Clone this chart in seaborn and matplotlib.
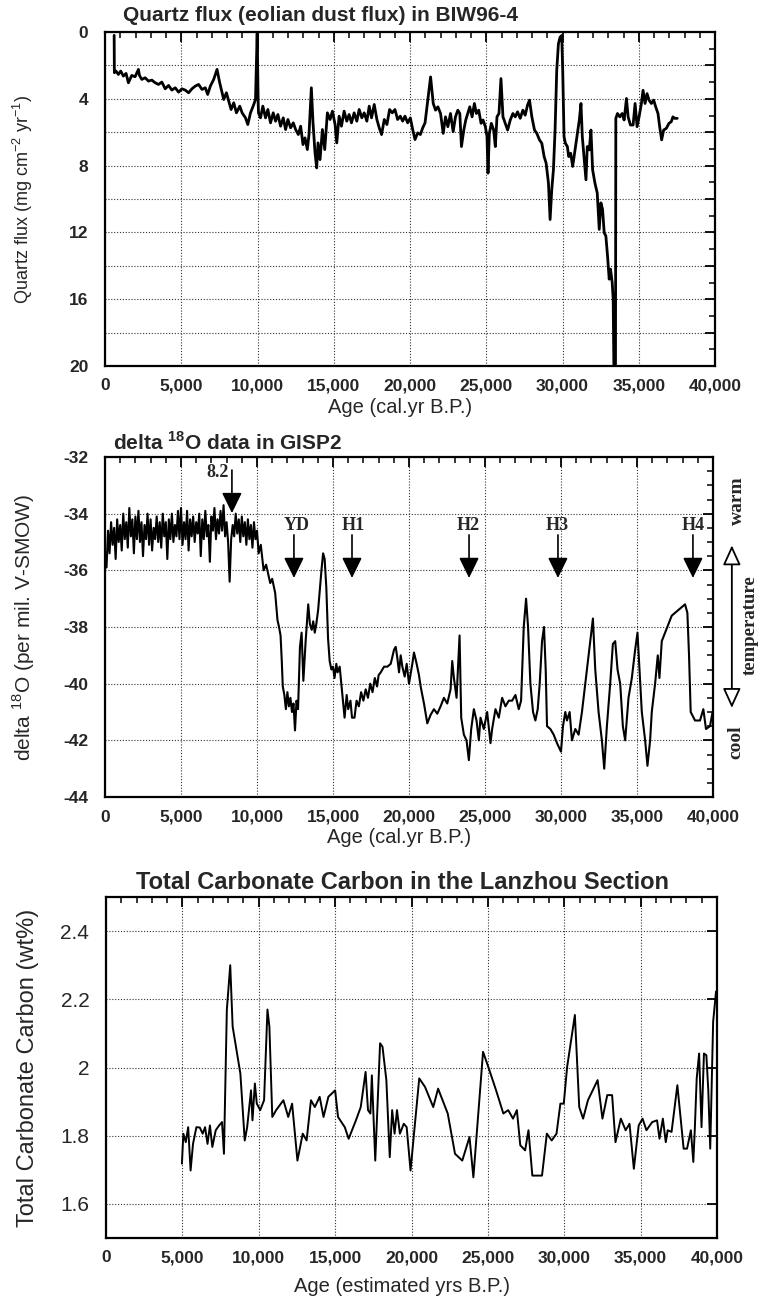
import numpy as np
import pandas as pd
import matplotlib
matplotlib.use("Agg")
import matplotlib.pyplot as plt
from matplotlib.ticker import MultipleLocator, FuncFormatter
import seaborn as sns

# ---------------- data ----------------
# Panel 1: quartz flux (mg cm-2 yr-1) vs age (cal. yr B.P.)
quartz_age = [600, 614, 724, 877, 1031, 1206, 1382, 1535, 1754, 1974, 2193, 2259, 2412, 2632, 2851,
              3070, 3290, 3509, 3728, 3947, 4167, 4386, 4605, 4825, 5044, 5263, 5483, 5702, 5921,
              6140, 6360, 6579, 6732, 6908, 7127, 7346, 7522, 7676, 7785, 7961, 8114, 8268, 8443,
              8618, 8838, 8991, 9211, 9364, 9540, 9715, 9869, 9978, 10044, 10066, 10197, 10351,
              10526, 10680, 10855, 11031, 11184, 11338, 11513, 11689, 11842, 11996, 12171, 12347,
              12500, 12676, 12829, 12983, 13114, 13268, 13377, 13531, 13640, 13772, 13882, 13969,
              14101, 14255, 14408, 14583, 14759, 14912, 15088, 15197, 15351, 15505, 15680, 15855,
              16009, 16162, 16338, 16513, 16667, 16842, 16996, 17171, 17325, 17478, 17654, 17829,
              17983, 18136, 18312, 18487, 18662, 18838, 19013, 19189, 19364, 19518, 19671, 19847,
              20022, 20176, 20329, 20505, 20680, 20834, 20987, 21350, 21524, 21676, 21829, 22003,
              22177, 22329, 22482, 22656, 22830, 22982, 23135, 23266, 23374, 23527, 23657, 23788,
              23919, 24071, 24223, 24354, 24506, 24659, 24789, 24942, 25051, 25116, 25203, 25334,
              25486, 25595, 25704, 25834, 25965, 26096, 26248, 26400, 26575, 26749, 26901, 27053,
              27228, 27402, 27554, 27707, 27837, 27990, 28164, 28316, 28490, 28643, 28795, 28926,
              29078, 29187, 29296, 29405, 29513, 29622, 29731, 29840, 29949, 30014, 30101, 30188,
              30319, 30406, 30537, 30667, 30820, 30972, 31103, 31212, 31299, 31407, 31538, 31625,
              31756, 31865, 31974, 32126, 32278, 32409, 32518, 32627, 32735, 32844, 32953, 33062,
              33149, 33258, 33323, 33367, 33475, 33497, 33606, 33758, 33911, 34042, 34194, 34303,
              34455, 34629, 34760, 34891, 35021, 35174, 35283, 35413, 35544, 35674, 35827, 35979,
              36110, 36262, 36371, 36502, 36632, 36806, 36981, 37133, 37242, 37351, 37525]
quartz_flux = [0.2, 2.44, 2.34, 2.54, 2.34, 2.64, 2.48, 3.04, 2.6, 2.68, 2.24, 2.6, 2.84, 2.74, 2.94,
               2.88, 3.04, 3.14, 3.0, 3.4, 3.2, 3.48, 3.34, 3.6, 3.4, 3.48, 3.64, 3.4, 3.24,
               3.14, 3.44, 3.34, 3.74, 3.24, 2.84, 2.24, 3.04, 3.64, 4.04, 3.64, 4.14, 4.64, 4.24,
               4.84, 4.44, 4.84, 5.14, 5.54, 4.84, 4.44, 4.04, 0.08, 4.24, 4.84, 5.14, 4.44,
               5.14, 4.64, 5.44, 4.84, 5.34, 4.94, 5.64, 5.14, 5.84, 5.24, 5.74, 5.44,
               5.84, 6.14, 5.64, 6.74, 6.34, 7.04, 6.14, 3.34, 5.44, 7.24, 8.14, 6.64,
               7.64, 5.84, 7.04, 4.84, 5.24, 4.74, 5.54, 6.64, 5.04, 5.64, 4.74, 5.34,
               4.94, 5.44, 4.84, 5.34, 4.64, 5.14, 4.84, 5.34, 4.44, 5.14, 4.34, 5.24,
               5.74, 6.14, 5.24, 5.54, 4.64, 4.84, 4.64, 5.24, 5.04, 5.34, 5.04, 5.44,
               5.14, 5.84, 6.44, 6.04, 6.14, 5.74, 5.44, 2.69, 4.28, 4.68, 4.48, 4.88,
               6.07, 5.08, 5.67, 4.88, 5.97, 5.08, 4.68, 4.88, 6.86, 5.87, 5.27, 4.88,
               4.48, 5.08, 4.28, 4.88, 4.68, 5.47, 5.27, 5.67, 6.27, 8.45, 6.07, 5.47,
               5.87, 6.86, 5.08, 4.88, 2.79, 5.08, 5.47, 5.87, 5.27, 4.88, 5.08, 4.78,
               5.17, 4.68, 4.98, 4.38, 4.08, 5.08, 5.87, 6.07, 6.46, 6.66, 7.46, 7.85,
               9.04, 11.23, 9.44, 8.25, 5.87, 2.30, 0.71, 0.31, 0.21, 2.30, 6.27, 6.66,
               6.86, 7.46, 7.26, 8.05, 7.06, 6.07, 5.27, 4.28, 6.27, 7.46, 8.85, 6.86,
               7.06, 5.87, 8.25, 9.04, 9.64, 11.82, 10.23, 10.63, 12.02, 12.22, 13.41, 14.80,
               14.20, 15.00, 15.99, 19.9, 19.9, 5.17, 4.88, 5.08, 4.88, 5.27, 3.98, 5.08,
               5.57, 5.57, 4.28, 5.67, 5.08, 4.28, 3.49, 4.28, 3.69, 4.08, 4.28, 4.08,
               4.48, 4.88, 5.67, 6.46, 5.87, 5.77, 5.47, 5.37, 5.08, 5.17, 5.17]

# Panel 2: GISP2 delta 18O (per mil V-SMOW)
d18o_age = [100, 200, 300, 400, 500, 600, 700, 800, 900, 1000, 1100, 1200, 1300, 1400, 1500,
            1600, 1700, 1800, 1900, 2000, 2100, 2200, 2300, 2400, 2500, 2600, 2700, 2800, 2900,
            3000, 3100, 3200, 3300, 3400, 3500, 3600, 3700, 3800, 3900, 4000, 4100, 4200, 4300,
            4400, 4500, 4600, 4700, 4800, 4900, 5000, 5100, 5200, 5300, 5400, 5500, 5600, 5700,
            5800, 5900, 6000, 6100, 6200, 6300, 6400, 6500, 6600, 6700, 6800, 6900, 7000, 7100,
            7200, 7300, 7400, 7500, 7600, 7700, 7800, 7900, 8000, 8100, 8200, 8300, 8400, 8500,
            8600, 8700, 8800, 8900, 9000, 9100, 9200, 9300, 9400, 9500, 9600, 9700, 9800, 9900,
            10000, 10109, 10250, 10435, 10600, 10870, 11000, 11196, 11348, 11450, 11550, 11630,
            11696, 11800, 11900, 12000, 12100, 12200, 12300, 12400, 12500, 12600, 12700, 12826,
            12935, 13050, 13200, 13370, 13480, 13600, 13700, 13800, 13900, 14022, 14240, 14348,
            14450, 14560, 14674, 14780, 14892, 15000, 15100, 15218, 15300, 15440, 15650, 15761,
            15900, 16000, 16150, 16250, 16414, 16550, 16700, 16850, 17000, 17150, 17300, 17450,
            17600, 17750, 17900, 18000, 18140, 18359, 18578, 18797, 19015, 19125, 19234, 19344,
            19453, 19562, 19716, 19847, 20000, 20219, 20328, 20503, 20656, 20766, 20985, 21203,
            21422, 21641, 21860, 22079, 22297, 22516, 22735, 22844, 22954, 23129, 23326, 23435,
            23610, 23785, 23938, 24092, 24267, 24442, 24595, 24704, 24923, 25142, 25361, 25470,
            25689, 25908, 26126, 26345, 26564, 26783, 27002, 27220, 27374, 27549, 27702, 27833,
            27986, 28161, 28314, 28468, 28599, 28752, 28883, 28993, 29080, 29299, 29518, 29737,
            29999, 30130, 30284, 30393, 30568, 30721, 30940, 31159, 31378, 31596, 31815, 32100,
            32253, 32472, 32690, 32844, 33019, 33237, 33412, 33566, 33719, 33894, 34069, 34222,
            34441, 34660, 34878, 35032, 35163, 35316, 35535, 35688, 35863, 35972, 36191, 36366,
            36476, 36629, 36848, 37066, 37285, 37504, 37723, 37942, 38160, 38314, 38423, 38532,
            38817, 39145, 39364, 39539, 39801, 39976]
d18o_val = [-35.9, -34.6, -35.4, -34.3, -35.1, -34.5, -35.6, -34.2, -35.0, -34.4, -35.3, -34.0, -34.9,
            -34.3, -35.2, -33.8, -34.8, -34.2, -35.4, -34.1, -34.9, -33.9, -35.0, -34.3, -35.5,
            -34.4, -34.9, -34.0, -35.1, -34.2, -35.3, -34.5, -34.9, -34.1, -35.0, -34.3, -35.2,
            -34.0, -34.8, -34.3, -35.6, -34.2, -34.9, -34.0, -35.0, -34.4, -34.8, -33.9, -34.9,
            -33.8, -35.1, -34.3, -34.9, -33.9, -35.3, -34.2, -34.8, -34.1, -35.0, -34.3, -34.7,
            -34.0, -35.5, -34.2, -34.9, -33.9, -34.8, -34.4, -35.7, -34.1, -34.6, -33.8, -34.9,
            -34.2, -34.7, -33.9, -34.6, -33.7, -34.8, -34.3, -35.0, -36.4, -34.9, -34.4, -34.8,
            -34.0, -34.7, -34.2, -35.0, -34.1, -34.8, -34.3, -35.1, -34.2, -34.9, -34.4, -35.2,
            -34.3, -34.9, -34.6, -35.4, -35.1, -36.0, -35.8, -36.45, -36.3, -36.8, -37.76, -38.0,
            -38.3, -39.2, -40.1, -40.4, -40.9, -40.3, -40.8, -40.5, -41.0, -40.7, -41.65, -40.6,
            -40.9, -38.7, -38.2, -39.9, -38.5, -37.2, -37.9, -38.1, -37.8, -38.2, -37.9, -37.4,
            -36.0, -35.4, -35.6, -36.6, -38.4, -39.2, -39.5, -39.4, -39.8, -39.3, -39.6, -39.4,
            -40.6, -41.2, -40.4, -40.9, -40.6, -41.2, -41.2, -40.6, -40.8, -40.3, -40.6, -40.2,
            -40.5, -40.0, -40.3, -39.8, -40.1, -39.7, -39.6, -39.4, -39.4, -39.3, -38.8, -38.7,
            -39.1, -39.6, -39.0, -39.4, -39.75, -39.3, -40.0, -39.3, -38.9, -39.3, -39.7, -40.1,
            -40.7, -41.4, -41.1, -40.9, -41.06, -40.8, -40.5, -40.7, -40.2, -39.2, -39.8, -40.5,
            -38.3, -41.2, -41.8, -42.0, -42.7, -41.6, -40.9, -41.3, -42.0, -41.2, -41.6, -41.0,
            -42.1, -41.6, -40.9, -41.2, -40.5, -40.8, -40.6, -40.6, -40.4, -40.9, -40.6, -38.0,
            -37.0, -38.0, -40.0, -41.0, -41.3, -40.9, -40.0, -38.5, -38.0, -39.5, -41.5, -41.6,
            -41.8, -42.1, -42.4, -41.5, -41.0, -41.3, -41.0, -42.0, -41.6, -41.8, -41.0, -40.0,
            -39.0, -37.7, -39.5, -41.0, -42.0, -43.0, -41.5, -40.0, -38.6, -38.5, -39.5, -40.0,
            -41.5, -42.0, -40.5, -39.8, -38.8, -38.2, -39.5, -41.0, -42.0, -42.9, -42.0, -41.0,
            -40.0, -39.0, -39.8, -38.5, -38.2, -37.9, -37.6, -37.5, -37.4, -37.3, -37.2, -37.5,
            -39.0, -41.0, -41.3, -41.3, -40.9, -41.6, -41.5, -41.0]

# Panel 3: total carbonate carbon (wt%) in the Lanzhou section
tcc_age = [4970, 5063, 5222, 5380, 5538, 5696, 5918, 6139, 6329, 6487, 6646, 6804, 6962, 7184,
           7405, 7595, 7722, 7911, 8133, 8291, 8544, 8797, 9082, 9241, 9494, 9589, 9747, 9873,
           10095, 10348, 10570, 10696, 10886, 11139, 11614, 11930, 12184, 12532, 12880, 13133,
           13418, 13671, 13987, 14241, 14557, 15000, 15190, 15633, 15886, 16361, 16677, 16994,
           17152, 17310, 17405, 17627, 17943, 18101, 18354, 18576, 18734, 18892, 19051, 19241,
           19494, 19684, 19937, 20506, 20886, 21424, 21741, 22373, 22848, 23323, 23797, 24051,
           24684, 25063, 25538, 26013, 26329, 26646, 26899, 27120, 27437, 27658, 27911, 28544,
           28861, 29177, 29494, 29747, 29968, 30190, 30696, 30981, 31234, 31551, 32184, 32500,
           32816, 33133, 33354, 33703, 34019, 34272, 34557, 34873, 35127, 35380, 35759, 36076,
           36234, 36456, 36646, 36772, 37025, 37405, 37816, 38038, 38291, 38449, 38544, 38671,
           38829, 38987, 39146, 39304, 39430, 39557, 39747, 39937]
tcc_val = [1.718, 1.806, 1.781, 1.825, 1.698, 1.776, 1.825, 1.824, 1.806, 1.825, 1.776, 1.830,
           1.767, 1.816, 1.830, 1.840, 1.747, 2.169, 2.30, 2.120, 2.051, 1.982, 1.786, 1.825,
           1.933, 1.845, 1.953, 1.894, 1.875, 1.904, 2.170, 2.120, 1.855, 1.875, 1.904, 1.855,
           1.894, 1.727, 1.806, 1.786, 1.904, 1.884, 1.914, 1.855, 1.914, 1.933, 1.855, 1.825,
           1.791, 1.845, 1.884, 1.987, 1.875, 1.865, 1.977, 1.727, 2.071, 2.061, 1.963, 1.737,
           1.875, 1.806, 1.875, 1.806, 1.835, 1.825, 1.698, 1.968, 1.943, 1.884, 1.938, 1.865,
           1.747, 1.727, 1.796, 1.678, 2.046, 1.997, 1.933, 1.865, 1.875, 1.850, 1.875, 1.772,
           1.757, 1.816, 1.683, 1.683, 1.806, 1.786, 1.806, 1.894, 1.894, 2.002, 2.154, 1.884,
           1.850, 1.904, 1.963, 1.850, 1.919, 1.919, 1.781, 1.850, 1.816, 1.835, 1.703, 1.830,
           1.850, 1.816, 1.840, 1.845, 1.791, 1.850, 1.781, 1.816, 1.811, 1.948, 1.762, 1.762,
           1.816, 1.723, 1.816, 1.968, 2.041, 1.825, 2.041, 2.036, 1.933, 1.762, 2.134, 2.223]

# annotations in the GISP2 panel: (label, arrow age, text age)
event_labels = ["YD", "H1", "H2", "H3", "H4"]
event_arrow_age = [12430, 16250, 23950, 29800, 38680]
event_text_age = [12630, 16320, 23880, 29740, 38680]

xtick_vals = [0, 5000, 10000, 15000, 20000, 25000, 30000, 35000, 40000]

# ---------------- style ----------------
sns.set_theme(style="white")
plt.rcParams['font.family'] = ['Liberation Sans', 'DejaVu Sans']
plt.rcParams['axes.unicode_minus'] = False
plt.rcParams['mathtext.fontset'] = 'custom'
plt.rcParams['mathtext.rm'] = 'Liberation Sans'
plt.rcParams['mathtext.bf'] = 'Liberation Sans:bold'

fig = plt.figure(figsize=(7.58, 13.0), dpi=100)
W, H = 758.0, 1300.0

def add_ax(l, t, r, b):
    return fig.add_axes([l / W, 1 - b / H, (r - l) / W, (b - t) / H])

ax1 = add_ax(105, 32, 715, 366)
ax2 = add_ax(105, 457, 713, 797)
ax3 = add_ax(106, 897, 717, 1238)

comma = FuncFormatter(lambda v, p: f"{v:,.0f}")
grid_kw = dict(linestyle=(0, (1, 1.6)), color='0.2', linewidth=0.8)

def common(ax):
    ax.set_xlim(0, 40000)
    ax.xaxis.set_major_locator(MultipleLocator(5000))
    ax.xaxis.set_minor_locator(MultipleLocator(1000))
    ax.xaxis.set_major_formatter(comma)
    for s in ax.spines.values():
        s.set_visible(True)
        s.set_color('black')
        s.set_linewidth(1.6)
    ax.tick_params(which='both', direction='in', top=True, right=True, color='black')
    ax.tick_params(which='major', length=7, width=1.3)
    ax.tick_params(which='minor', length=4, width=1.1)
    ax.grid(True, which='major', **grid_kw)
    ax.set_axisbelow(True)

# ---- panel 1 ----
df1 = pd.DataFrame({"age": quartz_age, "flux": quartz_flux})
sns.lineplot(data=df1, x="age", y="flux", ax=ax1, color="black", lw=2.0,
             estimator=None, sort=False)
common(ax1)
ax1.set_ylim(20, 0)
ax1.yaxis.set_major_locator(MultipleLocator(2))
ax1.yaxis.set_minor_locator(MultipleLocator(1))
ax1.yaxis.set_major_formatter(FuncFormatter(lambda v, p: f"{v:.0f}" if round(v) % 4 == 0 else ""))
ax1.tick_params(axis='x', labelsize=12.5, pad=9)
ax1.tick_params(axis='y', labelsize=12.5, pad=12)
for lab in ax1.get_xticklabels() + ax1.get_yticklabels():
    lab.set_fontweight('bold')
ax1.set_xlabel("Age (cal.yr B.P.)", fontsize=14.5)
ax1.xaxis.set_label_coords(0.484, -0.095)
ax1.set_ylabel(r"Quartz flux (mg cm$^{-2}$ yr$^{-1}$)", fontsize=13)
ax1.yaxis.set_label_coords(-0.115, 0.5)
ax1.text(0.03, 1.048, "Quartz flux (eolian dust flux) in BIW96-4", transform=ax1.transAxes,
         ha='left', va='center', fontsize=15, fontweight='bold')

# ---- panel 2 ----
df2 = pd.DataFrame({"age": d18o_age, "d18o": d18o_val})
sns.lineplot(data=df2, x="age", y="d18o", ax=ax2, color="black", lw=1.5,
             estimator=None, sort=False)
common(ax2)
ax2.set_ylim(-44, -32)
ax2.yaxis.set_major_locator(MultipleLocator(2))
ax2.yaxis.set_minor_locator(MultipleLocator(0.5))
ax2.yaxis.set_major_formatter(FuncFormatter(lambda v, p: f"{v:.0f}"))
ax2.tick_params(axis='x', labelsize=12.5, pad=9)
ax2.tick_params(axis='y', labelsize=12.5, pad=12)
for lab in ax2.get_xticklabels() + ax2.get_yticklabels():
    lab.set_fontweight('bold')
ax2.set_xlabel("Age (cal.yr B.P.)", fontsize=14.5)
ax2.xaxis.set_label_coords(0.483, -0.09)
ax2.set_ylabel(r"delta $^{18}$O (per mil. V-SMOW)", fontsize=15)
ax2.yaxis.set_label_coords(-0.112, 0.5)
ax2.text(0.013, 1.043, r"delta $^{\mathbf{18}}$O data in GISP2", transform=ax2.transAxes,
         ha='left', va='center', fontsize=15, fontweight='bold')

serif_b = dict(family=['Liberation Serif', 'DejaVu Serif'], fontweight='bold')
arrow_kw = dict(arrowstyle='-|>,head_length=0.45,head_width=0.22', color='black',
                lw=1.2, mutation_scale=28, shrinkA=0, shrinkB=0)
# 8.2 ka event
ax2.annotate("", xy=(8350, -33.98), xytext=(8350, -32.46), arrowprops=arrow_kw)
ax2.text(8150, -32.56, "8.2", ha='right', va='center', fontsize=13, **serif_b)
for lab, xa, xt in zip(event_labels, event_arrow_age, event_text_age):
    ax2.annotate("", xy=(xa, -36.27), xytext=(xa, -34.75), arrowprops=arrow_kw)
    ax2.text(xt, -34.4, lab, ha='center', va='center', fontsize=13, **serif_b)

# temperature arrow at the right
ax2.annotate("", xy=(1.031, 0.74), xytext=(1.031, 0.262), xycoords='axes fraction',
             textcoords='axes fraction', annotation_clip=False,
             arrowprops=dict(arrowstyle='<|-|>,head_length=0.55,head_width=0.25',
                             fc='white', ec='black', lw=1.3, mutation_scale=22,
                             shrinkA=0, shrinkB=0))
ax2.text(1.04, 0.872, "warm", transform=ax2.transAxes, rotation=90, ha='center',
         va='center', fontsize=14, **serif_b)
ax2.text(1.062, 0.506, "temperature", transform=ax2.transAxes, rotation=90, ha='center',
         va='center', fontsize=13.5, **serif_b)
ax2.text(1.037, 0.16, "cool", transform=ax2.transAxes, rotation=90, ha='center',
         va='center', fontsize=14, **serif_b)

# ---- panel 3 ----
df3 = pd.DataFrame({"age": tcc_age, "tcc": tcc_val})
sns.lineplot(data=df3, x="age", y="tcc", ax=ax3, color="black", lw=1.4,
             estimator=None, sort=False)
common(ax3)
ax3.set_ylim(1.5, 2.5)
ax3.yaxis.set_major_locator(MultipleLocator(0.2))
ax3.yaxis.set_major_formatter(FuncFormatter(lambda v, p: f"{v:g}" if 1.55 < v < 2.45 else ""))
ax3.tick_params(axis='y', which='both', left=False, right=True)
ax3.tick_params(axis='x', labelsize=12.5, pad=9)
ax3.tick_params(axis='y', labelsize=15, pad=12)
for lab in ax3.get_xticklabels():
    lab.set_fontweight('bold')
ax3.set_xlabel("Age (estimated yrs B.P.)", fontsize=14.5)
ax3.xaxis.set_label_coords(0.484, -0.115)
ax3.set_ylabel("Total Carbonate Carbon (wt%)", fontsize=17)
ax3.yaxis.set_label_coords(-0.11, 0.5)
ax3.text(0.486, 1.043, "Total Carbonate Carbon in the Lanzhou Section", transform=ax3.transAxes,
         ha='center', va='center', fontsize=17, fontweight='bold')

fig.savefig("out.png", dpi=100, facecolor='white')
